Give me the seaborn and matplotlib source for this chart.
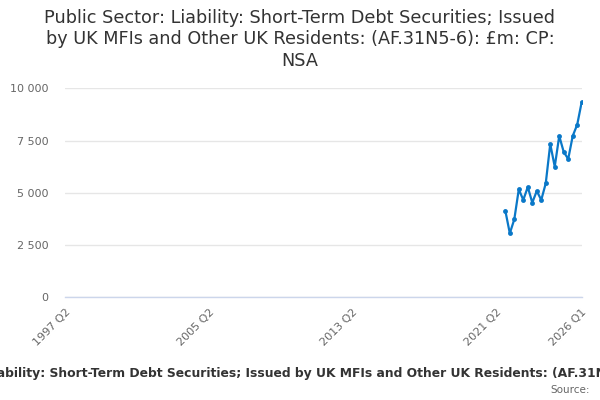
import pandas as pd
import numpy as np
import seaborn as sns
import matplotlib.pyplot as plt


title = "Public Sector: Liability: Short-Term Debt Securities; Issued\nby UK MFIs and Other UK Residents: (AF.31N5-6): £m: CP:\nNSA"
series_name = "Public Sector: Liability: Short-Term Debt Securities; Issued by UK MFIs and Other UK Residents: (AF.31N5-6): £m: CP: NSA"

quarters = ["2021 Q4",
            "2022 Q1", "2022 Q2", "2022 Q3", "2022 Q4",
            "2023 Q1", "2023 Q2", "2023 Q3", "2023 Q4",
            "2024 Q1", "2024 Q2", "2024 Q3", "2024 Q4",
            "2025 Q1", "2025 Q2", "2025 Q3", "2025 Q4",
            "2026 Q1"]
values = [4148, 3063, 3733, 5169, 4659, 5281, 4531, 5089, 4659,
          5456, 7339, 6254, 7722, 6956, 6621, 7722, 8264, 9349]

tick_quarters = ["1997 Q2", "1999 Q2", "2001 Q2", "2003 Q2", "2005 Q2",
                 "2007 Q2", "2009 Q2", "2011 Q2", "2013 Q2", "2015 Q2",
                 "2017 Q2", "2019 Q2", "2021 Q2", "2023 Q2", "2026 Q1"]
labelled = ["1997 Q2", "2005 Q2", "2013 Q2", "2021 Q2", "2026 Q1"]
y_ticks = [0, 2500, 5000, 7500, 10000]


def q_to_num(q):
    year, qq = q.split(" Q")
    return int(year) + (int(qq) - 1) / 4


df = pd.DataFrame({"quarter": quarters, "value": values})
df["t"] = df["quarter"].apply(q_to_num)

sns.set_style("white")
plt.rcParams['font.family'] = ['DejaVu Sans']

fig = plt.figure(figsize=(6, 4), dpi=100)
ax = fig.add_axes([65 / 600, 1 - 297.3 / 400, (581.7 - 65) / 600, (297.3 - 88.4) / 400])

sns.lineplot(data=df, x="t", y="value", ax=ax, color="#0a78c8", linewidth=1.6,
             marker="o", markersize=3.5, markeredgewidth=0)

ax.set_xlim(q_to_num("1997 Q2"), q_to_num("2026 Q1"))
ax.set_ylim(0, 10000)

ax.set_yticks(y_ticks)
ax.set_yticklabels([f"{v:,}".replace(",", " ") for v in y_ticks])
ax.yaxis.grid(True, color="#e6e6e6", linewidth=1)
ax.tick_params(axis="y", length=0, labelsize=8, labelcolor="#666666", pad=12)

ax.set_xticks([q_to_num(q) for q in tick_quarters])
ax.set_xticklabels([q if q in labelled else "" for q in tick_quarters],
                   rotation=45, ha="right", va="top", rotation_mode="anchor")
ax.tick_params(axis="x", length=7, width=1, color="#ccd6eb", labelsize=8,
               labelcolor="#666666", pad=0)

for s in ["top", "right", "left"]:
    ax.spines[s].set_visible(False)
ax.spines["bottom"].set_color("#ccd6eb")
ax.spines["bottom"].set_linewidth(1)

ax.set_xlabel("")
ax.set_ylabel("")

fig.text(0.5, 1 - 9 / 400, title, ha="center", va="top", fontsize=12.7,
         color="#333333", linespacing=1.25)
fig.text(307 / 600, 1 - 373 / 400, series_name, ha="center", va="center",
         fontsize=8.9, fontweight="bold", color="#333333")
fig.text(590 / 600, 1 - 390 / 400, "Source:", ha="right", va="center",
         fontsize=7.5, color="#666666")

fig.savefig("out.png", dpi=100)
